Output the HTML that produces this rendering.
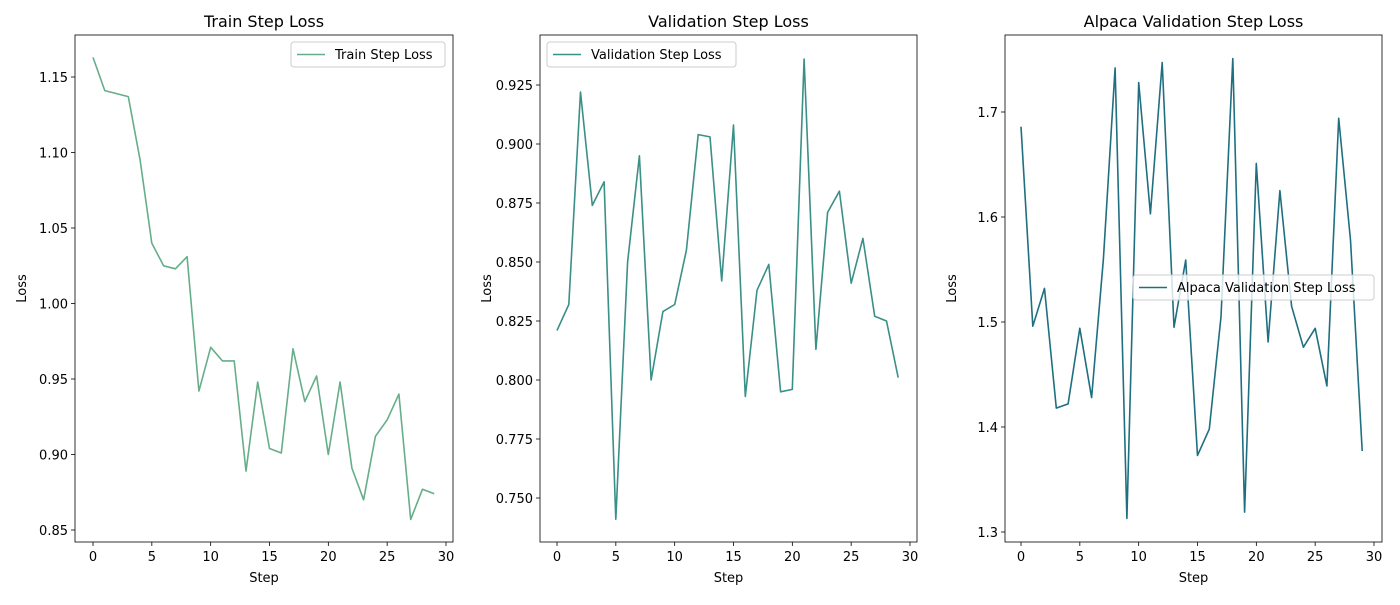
<!DOCTYPE html>
<html><head><meta charset="utf-8"><style>
body{margin:0;background:#fff}
svg{font-family:"DejaVu Sans","Liberation Sans",sans-serif}
</style></head><body>
<svg id="c" width="1400" height="600" xmlns="http://www.w3.org/2000/svg"></svg>
<script>
const steps = Array.from({length:30},(_,i)=>i);
const trainLoss = [1.163,1.141,1.139,1.137,1.095,1.040,1.025,1.023,1.031,0.942,0.971,0.962,0.962,0.889,0.948,0.904,0.901,0.970,0.935,0.952,0.900,0.948,0.891,0.870,0.912,0.923,0.940,0.857,0.877,0.874];
const valLoss = [0.821,0.832,0.922,0.874,0.884,0.741,0.850,0.895,0.800,0.829,0.832,0.855,0.904,0.903,0.842,0.908,0.793,0.838,0.849,0.795,0.796,0.936,0.813,0.871,0.880,0.841,0.860,0.827,0.825,0.801];
const alpacaLoss = [1.686,1.496,1.532,1.418,1.422,1.494,1.428,1.560,1.742,1.313,1.728,1.603,1.747,1.495,1.559,1.373,1.398,1.505,1.751,1.319,1.651,1.481,1.625,1.515,1.476,1.494,1.439,1.694,1.578,1.377];
const xTicks = [0,5,10,15,20,25,30];
const trainTicks = [0.85,0.90,0.95,1.00,1.05,1.10,1.15];
const valTicks = [0.750,0.775,0.800,0.825,0.850,0.875,0.900,0.925];
const alpacaTicks = [1.3,1.4,1.5,1.6,1.7];

const svgEl=document.getElementById('c');
const NS='http://www.w3.org/2000/svg';
function mk(tag,attrs,parent){const e=document.createElementNS(NS,tag);for(const k in attrs)e.setAttribute(k,attrs[k]);(parent||svgEl).appendChild(e);return e;}

const panels=[
 {title:'Train Step Loss',data:trainLoss,ticks:trainTicks,dec:2,color:'#66ae8a',x0:75,x1:453,xa:[0,93,30,446],ya:[1.15,77,0.85,530],leg:[291,42,154],name:'train'},
 {title:'Validation Step Loss',data:valLoss,ticks:valTicks,dec:3,color:'#3a8f87',x0:540,x1:917,xa:[0,557,30,910],ya:[0.925,85,0.75,498],leg:[547,42,189],name:'validation'},
 {title:'Alpaca Validation Step Loss',data:alpacaLoss,ticks:alpacaTicks,dec:1,color:'#1f6f80',x0:1005,x1:1382,xa:[0,1021,30,1374],ya:[1.7,112,1.3,532],leg:[1133,275,241],name:'alpaca'}
];
const topY=35,botY=542;
panels.forEach(p=>{
 const g=mk('g',{});
 
 
 const X=v=>p.xa[1]+(v-p.xa[0])*(p.xa[3]-p.xa[1])/(p.xa[2]-p.xa[0]);
 const Y=v=>p.ya[1]+(v-p.ya[0])*(p.ya[3]-p.ya[1])/(p.ya[2]-p.ya[0]);
 const t=mk('text',{x:(p.x0+p.x1)/2,y:27,'text-anchor':'middle','font-size':16},g);t.textContent=p.title;
 
 
 xTicks.forEach(v=>{const x=X(v);mk('line',{x1:x,x2:x,y1:botY,y2:botY+4,stroke:'#000','stroke-width':0.8},g);
  const l=mk('text',{x:x,y:botY+19,'text-anchor':'middle','font-size':13},g);l.textContent=v;
  
  });
 p.ticks.forEach(v=>{const y=Y(v);mk('line',{x1:p.x0-4,x2:p.x0,y1:y,y2:y,stroke:'#000','stroke-width':0.8},g);
  const l=mk('text',{x:p.x0-7,y:y+5,'text-anchor':'end','font-size':13},g);l.textContent=v.toFixed(p.dec);
  
  });
 const xl=mk('text',{x:(p.x0+p.x1)/2,y:582,'text-anchor':'middle','font-size':13},g);xl.textContent='Step';
 
 
 const yx=p.x0-49, yy=(topY+botY)/2;
 const yl=mk('text',{x:yx,y:yy,'text-anchor':'middle','font-size':13,transform:`rotate(-90 ${yx} ${yy})`},g);yl.textContent='Loss';
 
 
 const pts=p.data.map((v,i)=>X(steps[i]).toFixed(1)+','+Y(v).toFixed(1)).join(' ');
 const pl=mk('polyline',{points:pts,fill:'none',stroke:p.color,'stroke-width':1.6,'stroke-linejoin':'round'},g);
 
 
 const fr=mk('rect',{x:p.x0,y:topY,width:p.x1-p.x0,height:botY-topY,fill:'none',stroke:'#000','stroke-width':0.8},g);
 
 
 const [lx,ly,lw]=p.leg;
 const lg=mk('g',{},g);
 
 
 mk('rect',{x:lx,y:ly,width:lw,height:25,rx:3,fill:'#fff','fill-opacity':0.8,stroke:'#ccc','stroke-width':1},lg);
 mk('line',{x1:lx+6,x2:lx+34,y1:ly+12.5,y2:ly+12.5,stroke:p.color,'stroke-width':1.6},lg);
 const lt=mk('text',{x:lx+44,y:ly+17,'font-size':13},lg);lt.textContent=p.title;
});
</script>
</body></html>
